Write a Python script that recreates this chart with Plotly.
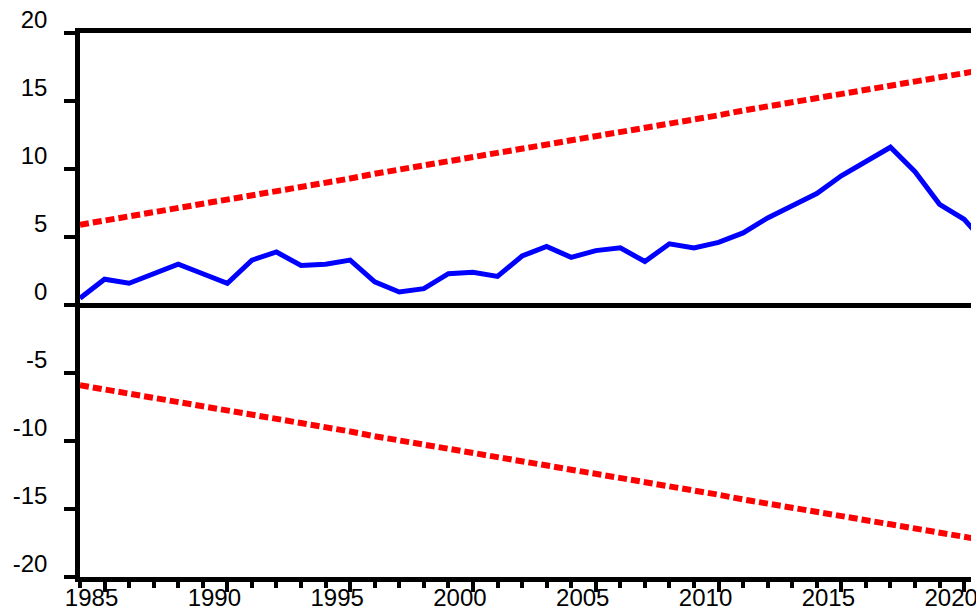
import plotly.graph_objects as go

years = list(range(1984, 2022))
cusum = [0.5, 1.9, 1.6, 2.3, 3.0, 2.3, 1.6, 3.3, 3.9, 2.9,
         3.0, 3.3, 1.7, 0.96, 1.2, 2.3, 2.4, 2.1, 3.6, 4.3,
         3.5, 4.0, 4.2, 3.2, 4.5, 4.2, 4.6, 5.3, 6.4, 7.3,
         8.2, 9.5, 10.5, 11.6, 9.8, 7.4, 6.3, 4.3]
upper_5 = [5.9, 6.2, 6.5, 6.8, 7.1, 7.45, 7.75, 8.05, 8.4, 8.7,
           9.0, 9.3, 9.65, 9.95, 10.25, 10.55, 10.85, 11.2, 11.5, 11.8,
           12.1, 12.4, 12.7, 13.05, 13.35, 13.65, 13.95, 14.3, 14.6, 14.9,
           15.2, 15.5, 15.85, 16.15, 16.45, 16.75, 17.05, 17.35]
lower_5 = [-5.9, -6.2, -6.5, -6.8, -7.1, -7.45, -7.75, -8.05, -8.4, -8.7,
           -9.0, -9.3, -9.65, -9.95, -10.25, -10.55, -10.85, -11.2, -11.5, -11.8,
           -12.1, -12.4, -12.7, -13.05, -13.35, -13.65, -13.95, -14.3, -14.6, -14.9,
           -15.2, -15.5, -15.85, -16.15, -16.45, -16.75, -17.05, -17.35]

x_tickvals = [1985, 1990, 1995, 2000, 2005, 2010, 2015, 2020]
x_ticktext = ["1985", "1990", "1995", "2000", "2005", "2010", "2015", "2020"]
y_tickvals = [-20, -15, -10, -5, 0, 5, 10, 15, 20]
y_ticktext = ["-20", "-15", "-10", "-5", "0", "5", "10", "15", "20"]

font_family = "Liberation Sans, Arial, sans-serif"

fig = go.Figure()
fig.add_trace(go.Scatter(x=years, y=upper_5, mode="lines",
                         line=dict(color="#FF0000", width=6, dash="9px,4px"),
                         name="5% Significance"))
fig.add_trace(go.Scatter(x=years, y=lower_5, mode="lines",
                         line=dict(color="#FF0000", width=6, dash="9px,4px"),
                         showlegend=False))
fig.add_trace(go.Scatter(x=years, y=cusum, mode="lines",
                         line=dict(color="#0000FF", width=5),
                         name="CUSUM"))

fig.update_layout(
    width=976, height=609,
    margin=dict(l=80, r=5, t=33, b=32, autoexpand=False),
    paper_bgcolor="white", plot_bgcolor="white",
    showlegend=False,
    font=dict(family=font_family, size=24, color="black"),
)
fig.update_xaxes(
    range=[1984, 2020.28], automargin=False,
    showgrid=False, zeroline=False,
    showline=True, linecolor="black", linewidth=5, mirror=True,
    tickmode="array", tickvals=x_tickvals, ticktext=x_ticktext,
    ticks="outside", ticklen=10, tickwidth=4, tickcolor="black",
    ticklabelshift=-13, ticklabelstandoff=-15, ticklabeloverflow="allow",
    minor=dict(tick0=1984, dtick=1, ticks="outside", ticklen=6,
               tickwidth=4, tickcolor="black", showgrid=False),
)
fig.update_yaxes(
    range=[-20, 20], automargin=False,
    showgrid=False,
    zeroline=True, zerolinecolor="black", zerolinewidth=5,
    showline=True, linecolor="black", linewidth=4.5, mirror=False,
    tickmode="array", tickvals=y_tickvals, ticktext=y_ticktext,
    ticks="outside", ticklen=11, tickwidth=4, tickcolor="black",
    ticklabelshift=-13, ticklabelstandoff=12, ticklabeloverflow="allow",
)

fig.write_html("out.html",
               config={"displayModeBar": False},
               post_script="document.body.style.margin='0';document.body.style.overflow='hidden';")
